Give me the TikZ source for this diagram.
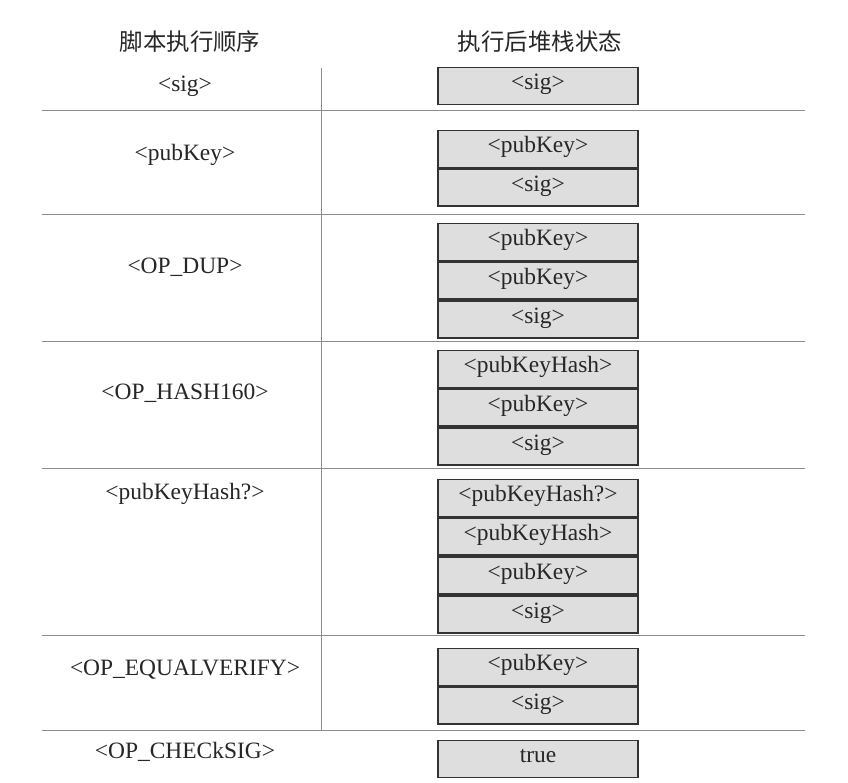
\documentclass[tikz,border=0pt]{standalone}
\usepackage{fontspec}
\setmainfont{Liberation Serif}
\newfontfamily\cjk{Noto Sans CJK SC}
\usetikzlibrary{positioning}

\begin{document}
\begin{tikzpicture}[x=0.03cm, y=-0.03cm, font=\fontsize{20}{22}\selectfont, text=black!85]
\path [use as bounding box] (0,0) rectangle (848,782);
\tikzstyle{cell} = [draw=black!80, line width=1.5pt, fill=black!13, minimum width=6cm, minimum height=1.11cm, inner sep=0pt, text depth=0pt, text height=1.4ex]
\tikzstyle{rule} = [black!45, line width=0.8pt]
\node (h1) at (190,42) {\cjk 脚本执行顺序};
\node (h2) at (540,42) {\cjk 执行后堆栈状态};
% rows
\foreach \y in {110,214,341,468,635,730}
	\draw[rule] (42,\y) -- (805,\y);
\draw[rule] (321,68) -- (321,730);
% script
\node (s1) at (185,86) {<sig>};
\node (s2) at (185,155) {<pubKey>};
\node (s3) at (185,267) {<OP\_DUP>};
\node (s4) at (185,393) {<OP\_HASH160>};
\node (s5) at (185,494) {<pubKeyHash?>};
\node (s6) at (185,670) {<OP\_EQUALVERIFY>};
\node (s7) at (185,752) {<OP\_CHECkSIG>};
% stacks
\node[cell] (a1) at (538,86) {<sig>};
\node[cell] (b1) at (538,149) {<pubKey>};
\node[cell, below=0pt of b1] (b2) {<sig>};
\node[cell] (c1) at (538,242) {<pubKey>};
\node[cell, below=0pt of c1] (c2) {<pubKey>};
\node[cell, below=0pt of c2] (c3) {<sig>};
\node[cell] (d1) at (538,369) {<pubKeyHash>};
\node[cell, below=0pt of d1] (d2) {<pubKey>};
\node[cell, below=0pt of d2] (d3) {<sig>};
\node[cell] (e1) at (538,498) {<pubKeyHash?>};
\node[cell, below=0pt of e1] (e2) {<pubKeyHash>};
\node[cell, below=0pt of e2] (e3) {<pubKey>};
\node[cell, below=0pt of e3] (e4) {<sig>};
\node[cell] (f1) at (538,667) {<pubKey>};
\node[cell, below=0pt of f1] (f2) {<sig>};
\node[cell] (g1) at (538,759) {true};
\end{tikzpicture}
\end{document}
